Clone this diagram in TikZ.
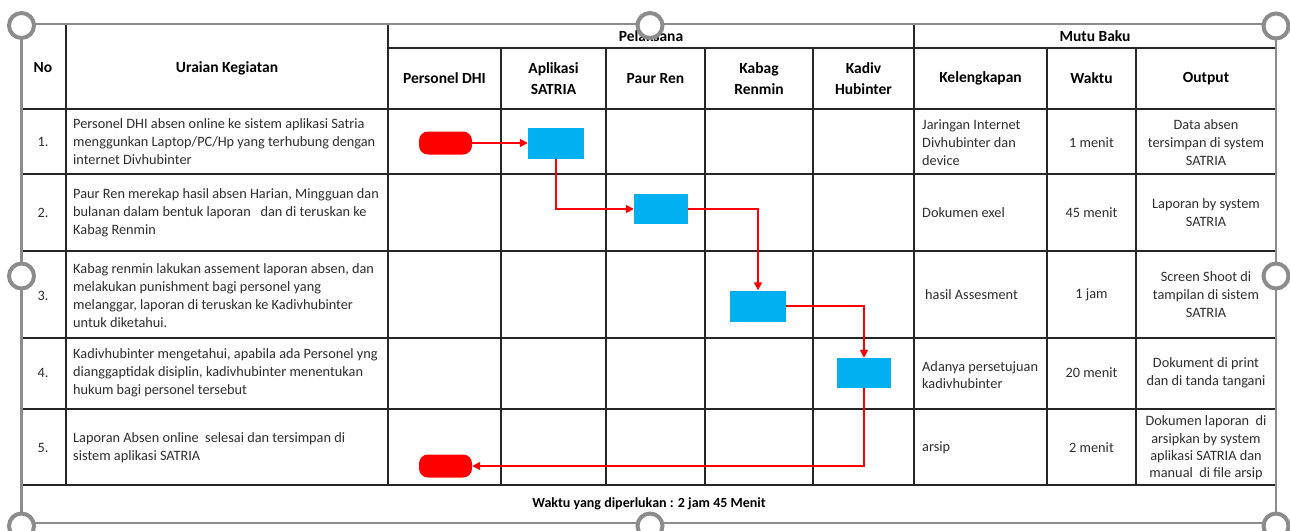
\documentclass[tikz,border=0pt]{standalone}
\usepackage{fontspec}
\setmainfont{Carlito}
\usetikzlibrary{arrows.meta}
\definecolor{sky}{HTML}{00B0F0}
\definecolor{flowred}{HTML}{FF0000}
\definecolor{frameg}{HTML}{8C8C8C}
\definecolor{ink}{HTML}{2E2E2E}
\begin{document}
\begin{tikzpicture}[x=1pt,y=-1pt,
  gridline/.style={draw=black!85, line width=1.1pt},
  framebox/.style={draw=frameg, line width=2.2pt},
  handle/.style={draw=frameg, line width=4pt, fill=white},
  body/.style={font=\fontsize{14.3}{18}\selectfont, text=ink, inner sep=0pt},
  bodyl/.style={body, anchor=west, align=left},
  bodyc/.style={body, align=center},
  hdr/.style={font=\bfseries\fontsize{15.5}{21}\selectfont, text=black, align=center, inner sep=0pt},
  term/.style={fill=flowred, draw=none, rounded corners=9pt, minimum width=53pt, minimum height=23pt, inner sep=0pt},
  proc/.style={fill=sky, draw=none, minimum width=56pt, minimum height=31pt, inner sep=0pt},
  flow/.style={draw=flowred, line width=1.6pt, -{Triangle[length=8pt,width=8pt]}}
]
\useasboundingbox (0,0) rectangle (1290,530);
\fill[white] (0,0) rectangle (1290,530);

% ---------- table grid ----------
\foreach \yy in {109,174,251,338,409,485}
  \draw[gridline] (21.5,\yy) -- (1276,\yy);
\draw[gridline] (388,48) -- (1276,48);
\foreach \xx in {66,388,914}
  \draw[gridline] (\xx,24) -- (\xx,485);
\foreach \xx in {501,606,705,813,1047,1136}
  \draw[gridline] (\xx,48) -- (\xx,485);
\draw[framebox] (21.5,24) rectangle (1276,523);

% ---------- headers ----------
\node[hdr] (hno) at (43,68) {No};
\node[hdr] (hur) at (227,68) {Uraian Kegiatan};
\node[hdr] (hpel) at (651,36) {Pelaksana};
\node[hdr] (hmutu) at (1095,36) {Mutu Baku};
\node[hdr] (hc1) at (444.5,78.5) {Personel DHI};
\node[hdr] (hc2) at (553.5,79) {Aplikasi\\SATRIA};
\node[hdr] (hc3) at (655.5,78.5) {Paur Ren};
\node[hdr] (hc4) at (759,79) {Kabag\\Renmin};
\node[hdr] (hc5) at (863.5,79) {Kadiv\\Hubinter};
\node[hdr] (hc6) at (980.5,78.5) {Kelengkapan};
\node[hdr] (hc7) at (1091.5,78.5) {Waktu};
\node[hdr] (hc8) at (1206,78.5) {Output};

% ---------- numbers ----------
\node[bodyc] (n1) at (43,142) {1.};
\node[bodyc] (n2) at (43,213) {2.};
\node[bodyc] (n3) at (43,296) {3.};
\node[bodyc] (n4) at (43,373) {4.};
\node[bodyc] (n5) at (43,448) {5.};

% ---------- uraian ----------
\node[bodyl] (u1) at (73,142) {Personel DHI absen online ke sistem aplikasi Satria\\menggunkan Laptop/PC/Hp yang terhubung dengan\\internet Divhubinter};
\node[bodyl] (u2) at (73,213) {Paur Ren merekap hasil absen Harian, Mingguan dan\\bulanan dalam bentuk laporan \ \ dan di teruskan ke\\Kabag Renmin};
\node[bodyl] (u3) at (73,295.5) {Kabag renmin lakukan assement laporan absen, dan\\melakukan punishment bagi personel yang\\melanggar, laporan di teruskan ke Kadivhubinter\\untuk diketahui.};
\node[bodyl] (u4) at (73,373) {Kadivhubinter mengetahui, apabila ada Personel yng\\dianggaptidak disiplin, kadivhubinter menentukan\\hukum bagi personel tersebut};
\node[bodyl] (u5) at (73,447.5) {Laporan Absen online \ selesai dan tersimpan di\\sistem aplikasi SATRIA};

% ---------- kelengkapan ----------
\node[bodyl] (k1) at (922,143) {Jaringan Internet\\Divhubinter dan\\device};
\node[bodyl] (k2) at (922,213) {Dokumen exel};
\node[bodyl] (k3) at (925,295) {hasil Assesment};
\node[bodyl, font=\fontsize{14.3}{16.5}\selectfont] (k4) at (922,375) {Adanya persetujuan\\kadivhubinter};
\node[bodyl] (k5) at (922,448) {arsip};

% ---------- waktu ----------
\node[bodyc] (w1) at (1091.5,142.5) {1 menit};
\node[bodyc] (w2) at (1091.5,213) {45 menit};
\node[bodyc] (w3) at (1091.5,295) {1 jam};
\node[bodyc] (w4) at (1091.5,373) {20 menit};
\node[bodyc] (w5) at (1091.5,448) {2 menit};

% ---------- output ----------
\node[bodyc] (o1) at (1206,143) {Data absen\\tersimpan di system\\SATRIA};
\node[bodyc] (o2) at (1206,213) {Laporan by system\\SATRIA};
\node[bodyc] (o3) at (1206,295) {Screen Shoot di\\tampilan di sistem\\SATRIA};
\node[bodyc] (o4) at (1206,373) {Dokument di print\\dan di tanda tangani};
\node[bodyc, font=\fontsize{14.3}{17.3}\selectfont] (o5) at (1206,448) {Dokumen laporan \ di\\arsipkan by system\\aplikasi SATRIA dan\\manual \ di file arsip};

% ---------- footer ----------
\node[hdr, font=\bfseries\fontsize{14}{18}\selectfont] (foot) at (649,504) {Waktu yang diperlukan : 2 jam 45 Menit};

% ---------- flow ----------
\node[term] (s1) at (445.5,143) {};
\node[proc] (p1) at (556,143) {};
\node[proc, minimum width=54pt, minimum height=30pt] (p2) at (661,209) {};
\node[proc] (p3) at (758,306) {};
\node[proc, minimum width=54pt, minimum height=30pt] (p4) at (864,373) {};
\node[term] (e1) at (445.5,466) {};

\draw[flow] (s1.east) -- (p1.west);
\draw[flow] (p1.south) |- (p2.west);
\draw[flow] (p2.east) -| (p3.north);
\draw[flow] (p3.east) -| (p4.north);
\draw[flow] (p4.south) |- (e1.east);

% ---------- selection handles ----------
\foreach \hx/\hy in {21.5/25.5, 650/25.5, 1276/26, 21.5/276, 1276/276, 21.5/526, 650/526, 1276/526}
  \draw[handle] (\hx,\hy) circle (12.5pt);
\end{tikzpicture}
\end{document}
